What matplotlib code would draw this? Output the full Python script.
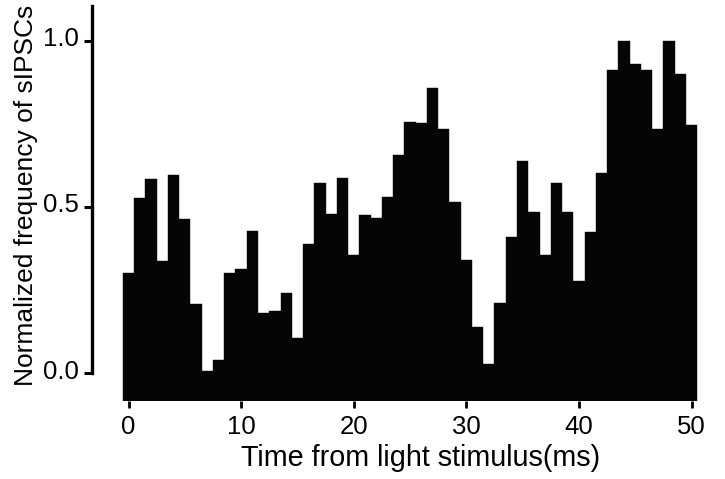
import matplotlib
matplotlib.use("Agg")
import matplotlib.pyplot as plt
import matplotlib.transforms as mtransforms
import numpy as np

# Time bins (ms) and normalized frequency of sIPSCs
time_ms = list(range(0, 51))
freq = [0.30, 0.528, 0.583, 0.338, 0.595, 0.463, 0.209, 0.005, 0.038, 0.302,
        0.313, 0.428, 0.180, 0.187, 0.242, 0.106, 0.390, 0.571, 0.478, 0.588,
        0.354, 0.475, 0.468, 0.531, 0.656, 0.756, 0.754, 0.857, 0.735, 0.514,
        0.339, 0.139, 0.028, 0.210, 0.410, 0.639, 0.486, 0.357, 0.571, 0.484,
        0.276, 0.425, 0.601, 0.911, 1.000, 0.930, 0.911, 0.734, 1.000, 0.900,
        0.748]
xticks = [0, 10, 20, 30, 40, 50]
yticks = [0.0, 0.5, 1.0]
ytick_labels = ["0.0", "0.5", "1.0"]

plt.rcParams['font.family'] = ['Liberation Sans', 'DejaVu Sans']

fig = plt.figure(figsize=(7.25, 4.79), dpi=100)
ax = fig.add_axes([0.1687, 0.1628, 0.9632 - 0.1687, 0.9875 - 0.1628])

ymin, ymax = -0.084, 1.105
vals = np.array(freq)
ax.bar(time_ms, vals - ymin, bottom=ymin, width=1.0, color='#050505',
       edgecolor='#050505', linewidth=0.3, align='center')

ax.set_xlim(-0.55, 50.6)
ax.set_ylim(ymin, ymax)

for s in ['top', 'right', 'bottom']:
    ax.spines[s].set_visible(False)
ax.spines['left'].set_position(('outward', 22))
ax.spines['left'].set_bounds(0, ymax)
ax.spines['left'].set_linewidth(2.4)

ax.set_xticks(xticks)
ax.set_xticklabels([str(t) for t in xticks])
ax.set_yticks(yticks)
ax.set_yticklabels(ytick_labels)
ax.tick_params(axis='y', direction='out', length=5.8, width=2.2, labelsize=18.5, pad=3.5)
ax.tick_params(axis='x', direction='out', length=5, width=2.0, labelsize=18.5, pad=5)

# reference places y tick labels slightly above the tick marks
offset = mtransforms.ScaledTranslation(0, 4.0 / 100, fig.dpi_scale_trans)
for lbl in ax.get_yticklabels():
    lbl.set_transform(lbl.get_transform() + offset)

ax.set_xlabel("Time from light stimulus(ms)", fontsize=20.7)
ax.xaxis.set_label_coords(0.517, -0.110)
ax.set_ylabel("Normalized frequency of sIPSCs", fontsize=19)
ax.yaxis.set_label_coords(-0.146, 0.52)

fig.savefig("out.png", dpi=100)
